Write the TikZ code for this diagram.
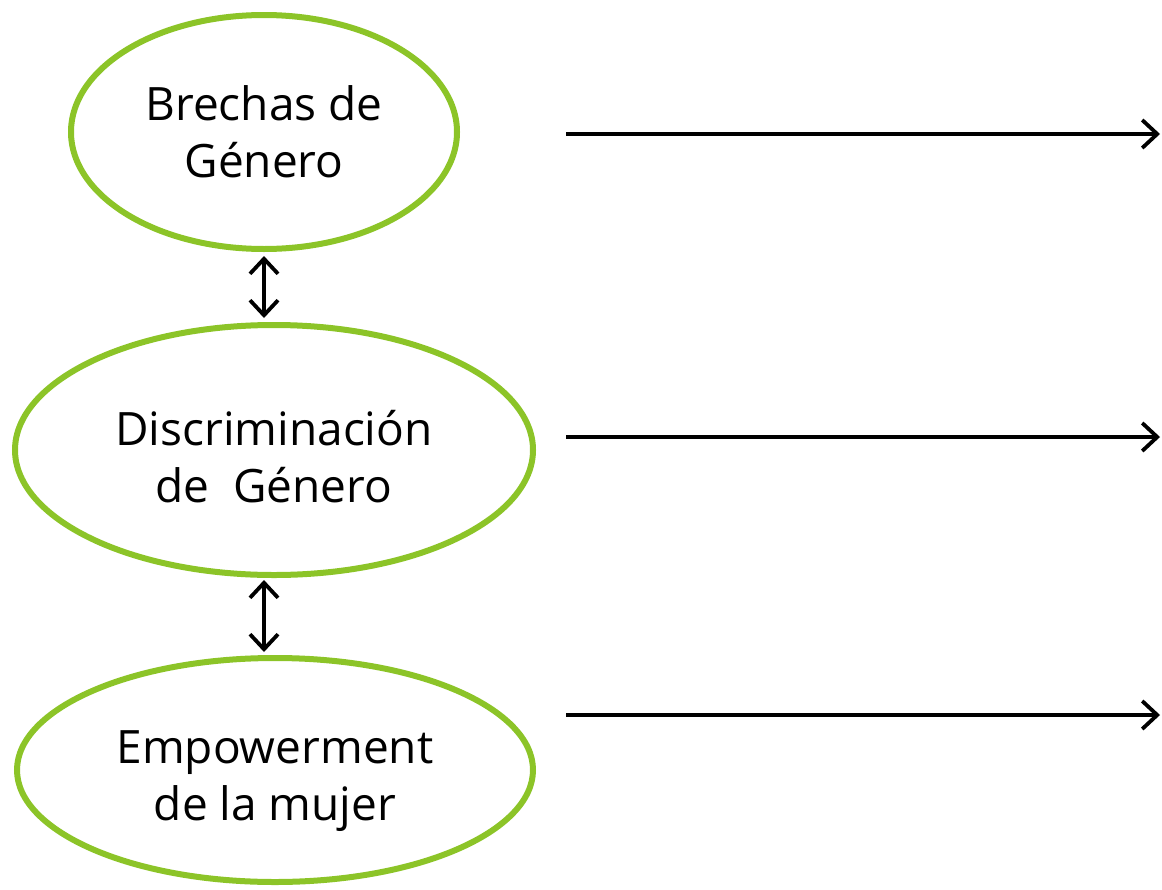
\documentclass[tikz,border=0pt]{standalone}
\usepackage{fontspec}
\setmainfont{Open Sans}
\usetikzlibrary{arrows.meta,shapes.geometric}
\definecolor{leafgreen}{RGB}{140,196,40}
\newcommand{\conceptlabel}[2]{\raisebox{-#1}[0pt][0pt]{\begin{tabular}{@{}c@{}}#2\end{tabular}}}
\tikzset{
  concept/.style={ellipse, draw=leafgreen, line width=6pt, inner sep=0pt,
    font=\fontsize{46}{57}\selectfont},
  link/.style={line width=3.8pt, -{Straight Barb[length=15pt,width=28pt]}},
  bilink/.style={line width=3.8pt, {Straight Barb[length=15pt,width=28pt]}-{Straight Barb[length=15pt,width=28pt]}}
}

\begin{document}
\begin{tikzpicture}[x=1pt, y=-1pt]
  \useasboundingbox (0,0) rectangle (1162,889);
  \node[concept, minimum width=386pt, minimum height=234pt] (brechas) at (264,132) {\conceptlabel{12pt}{Brechas de\\Género}};
  \node[concept, minimum width=518pt, minimum height=250pt] (discrim) at (274,450) {\conceptlabel{19pt}{Discriminación\\de~~Género}};
  \node[concept, minimum width=516pt, minimum height=224pt] (empower) at (275,770) {\conceptlabel{17pt}{Empowerment\\de la mujer}};
  % flechas entre conceptos
  \draw[bilink, shorten <=4pt, shorten >=4pt] (brechas.south) -- (brechas.south |- discrim.north);
  \draw[bilink, shorten <=2pt, shorten >=3pt] (brechas.south |- discrim.south) -- (brechas.south |- empower.north);
  % flechas hacia la derecha
  \coordinate (b-in) at (566,134);  \coordinate (b-out) at (1160,134);
  \coordinate (d-in) at (566,437);  \coordinate (d-out) at (1160,437);
  \coordinate (e-in) at (566,715);  \coordinate (e-out) at (1160,715);
  \draw[link] (b-in) -- (b-out);
  \draw[link] (d-in) -- (d-out);
  \draw[link] (e-in) -- (e-out);
\end{tikzpicture}
\end{document}
